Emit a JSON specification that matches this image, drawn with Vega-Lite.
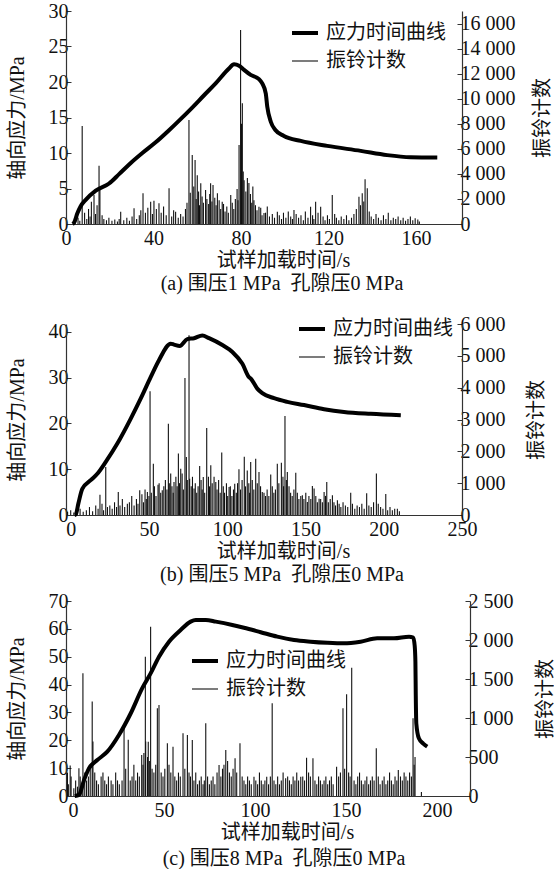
{
  "$schema": "https://vega.github.io/schema/vega-lite/v6.json",
  "padding": {"left": 7, "top": 1, "right": 0, "bottom": 0},
  "background": "white",
  "config": {
    "font": "Liberation Serif, Noto Sans CJK SC",
    "view": {"stroke": null},
    "axis": {"labelFont": "Liberation Serif, Noto Sans CJK SC", "labelFontSize": 20, "labelColor": "#111", "titleFont": "Liberation Serif, Noto Sans CJK SC", "titleFontSize": 20, "titleFontWeight": "normal", "titleColor": "#111", "grid": false, "domainColor": "#333", "tickColor": "#333", "domainWidth": 1.2, "labelFlush": false, "labelOverlap": false},
    "legend": {"labelFont": "Liberation Serif, Noto Sans CJK SC", "labelFontSize": 20, "labelColor": "#111", "symbolType": "stroke", "symbolSize": 676, "rowPadding": 4, "labelOffset": 6, "padding": 0, "titlePadding": 0},
    "title": {"font": "Liberation Serif, Noto Sans CJK SC", "fontSize": 20, "fontWeight": "normal", "color": "#111"}
  },
  "resolve": {"scale": {"color": "independent", "strokeWidth": "independent"}},
  "spacing": 6,
  "vconcat": [
    {
      "spacing": 20,
      "resolve": {"scale": {"color": "independent", "strokeWidth": "independent"}},
      "vconcat": [
        {
          "width": 396, "height": 213,
          "title": {"text": "(a) 围压1 MPa\u00a0\u00a0孔隙压0 MPa", "orient": "bottom", "offset": 4, "dx": 18},
          "resolve": {"scale": {"y": "independent"}},
          "layer": [
            {
              "data": {"name": "a_bars"},
              "mark": {"type": "rule"},
              "encoding": {
                "x": {"field": "t", "type": "quantitative", "scale": {"domain": [0, 181], "nice": false, "zero": false}, "axis": {"values": [0, 40, 80, 120, 160], "title": "试样加载时间/s", "ticks": false, "labelPadding": 4, "titlePadding": 2, "titleX": 217}},
                "y": {"field": "c", "type": "quantitative", "scale": {"domain": [0, 17000], "nice": false}, "axis": {"orient": "right", "values": [0, 2000, 4000, 6000, 8000, 10000, 12000, 14000, 16000], "labelExpr": "replace(format(datum.value, ','), ',', ' ')", "title": "振铃计数", "titleAngle": 270, "titleBaseline": "top", "tickSize": -5, "labelPadding": 3, "titlePadding": 17}},
                "y2": {"datum": 0},
                "color": {"datum": "振铃计数", "type": "nominal", "scale": {"domain": ["应力时间曲线", "振铃计数"], "range": ["#000000", "#111111"]}, "legend": {"orient": "none", "legendX": 224, "legendY": 7, "title": null}},
                "strokeWidth": {"datum": "振铃计数", "type": "ordinal", "scale": {"domain": ["应力时间曲线", "振铃计数"], "range": [4, 1.1]}, "legend": {"orient": "none", "legendX": 224, "legendY": 7, "title": null}}
              }
            },
            {
              "data": {"name": "a_stress"},
              "mark": {"type": "line", "interpolate": "monotone"},
              "encoding": {
                "x": {"field": "t", "type": "quantitative"},
                "y": {"field": "s", "type": "quantitative", "scale": {"domain": [0, 30], "nice": false}, "axis": {"orient": "left", "values": [0, 5, 10, 15, 20, 25, 30], "title": "轴向应力/MPa", "tickSize": -5, "labelPadding": 3, "titlePadding": 21}},
                "color": {"datum": "应力时间曲线", "type": "nominal"},
                "strokeWidth": {"datum": "应力时间曲线", "type": "ordinal"}
              }
            }
          ]
        },
        {
          "width": 396, "height": 191,
          "title": {"text": "(b) 围压5 MPa\u00a0\u00a0孔隙压0 MPa", "orient": "bottom", "offset": 4, "dx": 18},
          "resolve": {"scale": {"y": "independent"}},
          "layer": [
            {
              "data": {"name": "b_bars"},
              "mark": {"type": "rule"},
              "encoding": {
                "x": {"field": "t", "type": "quantitative", "scale": {"domain": [-3, 250], "nice": false, "zero": false}, "axis": {"values": [0, 50, 100, 150, 200, 250], "title": "试样加载时间/s", "ticks": false, "labelPadding": 4, "titlePadding": 2, "titleX": 217}},
                "y": {"field": "c", "type": "quantitative", "scale": {"domain": [0, 6000], "nice": false}, "axis": {"orient": "right", "values": [0, 1000, 2000, 3000, 4000, 5000, 6000], "labelExpr": "replace(format(datum.value, ','), ',', ' ')", "title": "振铃计数", "titleAngle": 270, "titleBaseline": "top", "tickSize": -5, "labelPadding": 3, "titlePadding": 21}},
                "y2": {"datum": 0},
                "color": {"datum": "振铃计数", "type": "nominal", "scale": {"domain": ["应力时间曲线", "振铃计数"], "range": ["#000000", "#111111"]}, "legend": {"orient": "none", "legendX": 231, "legendY": -10, "title": null}},
                "strokeWidth": {"datum": "振铃计数", "type": "ordinal", "scale": {"domain": ["应力时间曲线", "振铃计数"], "range": [4, 1.1]}, "legend": {"orient": "none", "legendX": 231, "legendY": -10, "title": null}}
              }
            },
            {
              "data": {"name": "b_stress"},
              "mark": {"type": "line", "interpolate": "monotone"},
              "encoding": {
                "x": {"field": "t", "type": "quantitative"},
                "y": {"field": "s", "type": "quantitative", "scale": {"domain": [0, 41.7], "nice": false}, "axis": {"orient": "left", "values": [0, 10, 20, 30, 40], "title": "轴向应力/MPa", "tickSize": -5, "labelPadding": 3, "titlePadding": 21}},
                "color": {"datum": "应力时间曲线", "type": "nominal"},
                "strokeWidth": {"datum": "应力时间曲线", "type": "ordinal"}
              }
            }
          ]
        }
      ]
    },
    {
      "width": 404, "height": 195,
      "title": {"text": "(c) 围压8 MPa\u00a0\u00a0孔隙压0 MPa", "orient": "bottom", "offset": 7, "dx": 16},
      "resolve": {"scale": {"y": "independent"}},
      "layer": [
        {
          "data": {"name": "c_bars"},
          "mark": {"type": "rule"},
          "encoding": {
            "x": {"field": "t", "type": "quantitative", "scale": {"domain": [-3.8, 218.2], "nice": false, "zero": false}, "axis": {"values": [0, 50, 100, 150, 200], "title": "试样加载时间/s", "ticks": false, "labelPadding": 4, "titlePadding": 2, "titleX": 221}},
            "y": {"field": "c", "type": "quantitative", "scale": {"domain": [0, 2500], "nice": false}, "axis": {"orient": "right", "values": [0, 500, 1000, 1500, 2000, 2500], "labelExpr": "replace(format(datum.value, ','), ',', ' ')", "title": "振铃计数", "titleAngle": 270, "titleBaseline": "top", "tickSize": -5, "labelPadding": 3, "titlePadding": 22}},
            "y2": {"datum": 0},
            "color": {"datum": "振铃计数", "type": "nominal", "scale": {"domain": ["应力时间曲线", "振铃计数"], "range": ["#000000", "#111111"]}, "legend": {"orient": "none", "legendX": 124, "legendY": 45, "title": null}},
            "strokeWidth": {"datum": "振铃计数", "type": "ordinal", "scale": {"domain": ["应力时间曲线", "振铃计数"], "range": [4, 1.1]}, "legend": {"orient": "none", "legendX": 124, "legendY": 45, "title": null}}
          }
        },
        {
          "data": {"name": "c_stress"},
          "mark": {"type": "line", "interpolate": "monotone"},
          "encoding": {
            "x": {"field": "t", "type": "quantitative"},
            "y": {"field": "s", "type": "quantitative", "scale": {"domain": [0, 70], "nice": false}, "axis": {"orient": "left", "values": [0, 10, 20, 30, 40, 50, 60, 70], "title": "轴向应力/MPa", "tickSize": -5, "labelPadding": 3, "titlePadding": 21}},
            "color": {"datum": "应力时间曲线", "type": "nominal"},
            "strokeWidth": {"datum": "应力时间曲线", "type": "ordinal"}
          }
        }
      ]
    }
  ],
  "datasets": {
    "a_stress": [
      {"t": 3.0, "s": 0}, {"t": 3.7, "s": 0.2}, {"t": 5.2, "s": 1.5}, {"t": 6.7, "s": 2.5}, {"t": 9.0, "s": 3.4}, {"t": 13.6, "s": 4.7}, {"t": 19.7, "s": 5.7}, {"t": 24.5, "s": 7.1}, {"t": 29.6, "s": 8.6}, {"t": 34.9, "s": 10.0}, {"t": 41.0, "s": 11.5}, {"t": 47.1, "s": 13.2}, {"t": 52.5, "s": 14.8}, {"t": 57.7, "s": 16.4}, {"t": 63.0, "s": 18.1}, {"t": 68.4, "s": 19.8}, {"t": 74.5, "s": 21.9}, {"t": 76.8, "s": 22.5}, {"t": 79.1, "s": 22.3}, {"t": 81.4, "s": 21.7}, {"t": 84.4, "s": 21.0}, {"t": 88.2, "s": 20.4}, {"t": 89.7, "s": 19.8}, {"t": 91.3, "s": 18.4}, {"t": 92.0, "s": 16.5}, {"t": 93.6, "s": 14.4}, {"t": 95.8, "s": 13.2}, {"t": 99.6, "s": 12.4}, {"t": 107.3, "s": 11.7}, {"t": 119.4, "s": 11.0}, {"t": 134.7, "s": 10.3}, {"t": 146.8, "s": 9.7}, {"t": 157.5, "s": 9.4}, {"t": 169.7, "s": 9.35}
    ],
    "a_bars": [
      {"t": 7.4, "c": 7820}, {"t": 11.6, "c": 1780}, {"t": 12.8, "c": 2310}, {"t": 15.1, "c": 4650}, {"t": 15.5, "c": 2980}, {"t": 25, "c": 980}, {"t": 31.1, "c": 1250}, {"t": 35.2, "c": 2450}, {"t": 38.7, "c": 1780}, {"t": 40.2, "c": 1860}, {"t": 42.5, "c": 1650}, {"t": 47.1, "c": 2850}, {"t": 50.1, "c": 980}, {"t": 56.2, "c": 8300}, {"t": 57.7, "c": 5500}, {"t": 59, "c": 5100}, {"t": 60, "c": 3900}, {"t": 61.6, "c": 3250}, {"t": 63.8, "c": 2710}, {"t": 66.1, "c": 3250}, {"t": 67.2, "c": 3110}, {"t": 69.2, "c": 2450}, {"t": 71.4, "c": 1780}, {"t": 75.3, "c": 2310}, {"t": 79.1, "c": 6300}, {"t": 79.8, "c": 15480}, {"t": 80.2, "c": 8000}, {"t": 80.6, "c": 9630}, {"t": 81.4, "c": 3500}, {"t": 82.9, "c": 3670}, {"t": 83.6, "c": 3270}, {"t": 85.9, "c": 1900}, {"t": 88.2, "c": 1380}, {"t": 90.5, "c": 880}, {"t": 96.6, "c": 980}, {"t": 104.2, "c": 1120}, {"t": 111.8, "c": 1380}, {"t": 114.1, "c": 1780}, {"t": 116.4, "c": 1380}, {"t": 121.7, "c": 2310}, {"t": 133.9, "c": 2180}, {"t": 135.4, "c": 2450}, {"t": 136.7, "c": 3570}, {"t": 137.7, "c": 2850},
      {"t": 4, "c": 300}, {"t": 5.5, "c": 500}, {"t": 6.3, "c": 250}, {"t": 8.5, "c": 900}, {"t": 9.5, "c": 400}, {"t": 10.3, "c": 1200}, {"t": 11, "c": 600}, {"t": 13.5, "c": 800}, {"t": 14.2, "c": 1500}, {"t": 16.5, "c": 700}, {"t": 17.3, "c": 400}, {"t": 18.5, "c": 300}, {"t": 19.6, "c": 500}, {"t": 21, "c": 250}, {"t": 22.3, "c": 350}, {"t": 23.5, "c": 200}, {"t": 24.3, "c": 400}, {"t": 26.4, "c": 300}, {"t": 27.8, "c": 500}, {"t": 29, "c": 250}, {"t": 30.2, "c": 600}, {"t": 32.3, "c": 400}, {"t": 33.5, "c": 700}, {"t": 34.2, "c": 1100}, {"t": 36.3, "c": 900}, {"t": 37.4, "c": 1300}, {"t": 39.5, "c": 800}, {"t": 41.3, "c": 1200}, {"t": 43.5, "c": 900}, {"t": 44.6, "c": 1400}, {"t": 45.8, "c": 700}, {"t": 48.3, "c": 600}, {"t": 49.2, "c": 1100}, {"t": 51.3, "c": 500}, {"t": 52.4, "c": 800}, {"t": 53.5, "c": 600}, {"t": 54.6, "c": 1200}, {"t": 55.3, "c": 1700}, {"t": 56.8, "c": 2500}, {"t": 58.4, "c": 3000}, {"t": 59.5, "c": 2000}, {"t": 60.6, "c": 2600}, {"t": 61, "c": 1500}, {"t": 62.2, "c": 2200}, {"t": 62.8, "c": 1700}, {"t": 64.4, "c": 2000}, {"t": 65.2, "c": 1600}, {"t": 65.7, "c": 2400}, {"t": 66.7, "c": 1800}, {"t": 68, "c": 2100}, {"t": 68.6, "c": 1500}, {"t": 70, "c": 1900}, {"t": 70.7, "c": 1200}, {"t": 72, "c": 1600}, {"t": 72.7, "c": 1000}, {"t": 73.5, "c": 1400}, {"t": 74.2, "c": 900}, {"t": 76, "c": 1700}, {"t": 76.7, "c": 1200}, {"t": 77.4, "c": 2000}, {"t": 78.2, "c": 2800}, {"t": 78.6, "c": 1900}, {"t": 81, "c": 4200}, {"t": 82.2, "c": 2600}, {"t": 84.3, "c": 2400}, {"t": 84.9, "c": 1700}, {"t": 85.4, "c": 3000}, {"t": 86.6, "c": 1500}, {"t": 87.3, "c": 1100}, {"t": 89, "c": 1300}, {"t": 89.6, "c": 700}, {"t": 91.2, "c": 900}, {"t": 92, "c": 1400}, {"t": 93, "c": 600}, {"t": 94.3, "c": 800}, {"t": 95.3, "c": 500}, {"t": 97.5, "c": 700}, {"t": 98.5, "c": 400}, {"t": 99.4, "c": 900}, {"t": 100.5, "c": 500}, {"t": 101.6, "c": 1000}, {"t": 102.7, "c": 600}, {"t": 103.5, "c": 400}, {"t": 105.2, "c": 800}, {"t": 106.3, "c": 500}, {"t": 107.4, "c": 700}, {"t": 108.5, "c": 300}, {"t": 109.4, "c": 1000}, {"t": 110.6, "c": 500}, {"t": 112.7, "c": 700}, {"t": 113.3, "c": 400}, {"t": 115.2, "c": 900}, {"t": 117.5, "c": 600}, {"t": 118.4, "c": 300}, {"t": 119.5, "c": 700}, {"t": 120.4, "c": 400}, {"t": 122.8, "c": 800}, {"t": 123.6, "c": 500}, {"t": 124.7, "c": 300}, {"t": 125.8, "c": 600}, {"t": 127, "c": 400}, {"t": 128.2, "c": 700}, {"t": 129.3, "c": 300}, {"t": 130.5, "c": 500}, {"t": 131.6, "c": 800}, {"t": 132.7, "c": 1200}, {"t": 134.6, "c": 1500}, {"t": 136.1, "c": 1800}, {"t": 138.6, "c": 1000}, {"t": 139.5, "c": 600}, {"t": 140.6, "c": 400}, {"t": 141.7, "c": 800}, {"t": 142.8, "c": 500}, {"t": 144, "c": 300}, {"t": 145.1, "c": 700}, {"t": 146.2, "c": 400}, {"t": 147.3, "c": 900}, {"t": 148.5, "c": 300}, {"t": 149.6, "c": 500}, {"t": 150.7, "c": 400}, {"t": 151.8, "c": 600}, {"t": 153, "c": 300}, {"t": 154.1, "c": 500}, {"t": 155.2, "c": 250}, {"t": 156.3, "c": 400}, {"t": 157.4, "c": 600}, {"t": 158.5, "c": 300}, {"t": 159.6, "c": 450}, {"t": 160.8, "c": 350}, {"t": 161.5, "c": 200}
    ],
    "b_stress": [
      {"t": 2.5, "s": 0}, {"t": 3.2, "s": 0.1}, {"t": 4.9, "s": 2.5}, {"t": 7.4, "s": 5.7}, {"t": 12.8, "s": 7.6}, {"t": 17.0, "s": 9.0}, {"t": 22.4, "s": 11.6}, {"t": 29.8, "s": 15.6}, {"t": 38.3, "s": 21.0}, {"t": 44.7, "s": 25.4}, {"t": 51.1, "s": 30.1}, {"t": 56.4, "s": 33.8}, {"t": 63.9, "s": 37.4}, {"t": 66.0, "s": 37.2}, {"t": 69.7, "s": 36.9}, {"t": 74.5, "s": 38.4}, {"t": 78.8, "s": 38.6}, {"t": 84.1, "s": 39.2}, {"t": 88.4, "s": 38.6}, {"t": 96.9, "s": 37.1}, {"t": 103.3, "s": 35.6}, {"t": 109.7, "s": 33.0}, {"t": 113.9, "s": 30.1}, {"t": 115.0, "s": 29.8}, {"t": 119.2, "s": 27.6}, {"t": 122.4, "s": 26.6}, {"t": 129.9, "s": 25.5}, {"t": 138.4, "s": 24.7}, {"t": 149.1, "s": 24.0}, {"t": 161.9, "s": 23.1}, {"t": 174.6, "s": 22.5}, {"t": 191.7, "s": 22.1}, {"t": 210.9, "s": 21.8}
    ],
    "b_bars": [
      {"t": 18.7, "c": 640}, {"t": 22.4, "c": 1510}, {"t": 30.4, "c": 720}, {"t": 36.2, "c": 355}, {"t": 44.1, "c": 775}, {"t": 49, "c": 720}, {"t": 50.7, "c": 3890}, {"t": 52.8, "c": 1610}, {"t": 55.8, "c": 950}, {"t": 58.5, "c": 775}, {"t": 62.4, "c": 2870}, {"t": 63.9, "c": 1300}, {"t": 66, "c": 1040}, {"t": 68.8, "c": 1930}, {"t": 70.3, "c": 1455}, {"t": 73, "c": 4300}, {"t": 73.9, "c": 1820}, {"t": 75.6, "c": 5650}, {"t": 76, "c": 1140}, {"t": 78.8, "c": 830}, {"t": 82.4, "c": 1540}, {"t": 84.7, "c": 1190}, {"t": 86.9, "c": 2730}, {"t": 89.5, "c": 1560}, {"t": 92.7, "c": 1040}, {"t": 96.5, "c": 1960}, {"t": 101.2, "c": 880}, {"t": 104.8, "c": 985}, {"t": 107.5, "c": 1435}, {"t": 110.9, "c": 1830}, {"t": 112.8, "c": 1400}, {"t": 115, "c": 1665}, {"t": 118.2, "c": 1770}, {"t": 120.3, "c": 1350}, {"t": 122.4, "c": 720}, {"t": 127.8, "c": 1270}, {"t": 132, "c": 1610}, {"t": 134.6, "c": 1640}, {"t": 136.9, "c": 3110}, {"t": 138.4, "c": 1350}, {"t": 143.8, "c": 1330}, {"t": 148, "c": 620}, {"t": 151.2, "c": 410}, {"t": 154.4, "c": 910}, {"t": 155.5, "c": 830}, {"t": 158.7, "c": 510}, {"t": 161.9, "c": 720}, {"t": 163.6, "c": 1040}, {"t": 167.2, "c": 620}, {"t": 170.4, "c": 460}, {"t": 178.9, "c": 700}, {"t": 189.1, "c": 680}, {"t": 195.3, "c": 1300}, {"t": 201.3, "c": 660}, {"t": 208.7, "c": 200},
      {"t": -2, "c": 100}, {"t": 0, "c": 150}, {"t": 2, "c": 80}, {"t": 4, "c": 120}, {"t": 6, "c": 200}, {"t": 8, "c": 100}, {"t": 10, "c": 150}, {"t": 12, "c": 250}, {"t": 14, "c": 120}, {"t": 16, "c": 300}, {"t": 17.5, "c": 200}, {"t": 20, "c": 350}, {"t": 21, "c": 150}, {"t": 23.5, "c": 250}, {"t": 25, "c": 300}, {"t": 26.5, "c": 200}, {"t": 28, "c": 400}, {"t": 29.3, "c": 250}, {"t": 31.5, "c": 300}, {"t": 33, "c": 500}, {"t": 34.5, "c": 250}, {"t": 37.5, "c": 400}, {"t": 39, "c": 600}, {"t": 40.5, "c": 300}, {"t": 42, "c": 500}, {"t": 43, "c": 350}, {"t": 45.5, "c": 650}, {"t": 46.5, "c": 400}, {"t": 47.5, "c": 800}, {"t": 48.3, "c": 500}, {"t": 50, "c": 600}, {"t": 51.5, "c": 700}, {"t": 53.5, "c": 900}, {"t": 54.5, "c": 600}, {"t": 56.5, "c": 1000}, {"t": 57.5, "c": 700}, {"t": 59.5, "c": 900}, {"t": 60.5, "c": 1100}, {"t": 61.5, "c": 800}, {"t": 63, "c": 1000}, {"t": 64.7, "c": 900}, {"t": 65.5, "c": 700}, {"t": 67.2, "c": 1200}, {"t": 68, "c": 900}, {"t": 69.5, "c": 1000}, {"t": 71.2, "c": 1300}, {"t": 72, "c": 800}, {"t": 74.5, "c": 1100}, {"t": 77, "c": 900}, {"t": 77.8, "c": 1200}, {"t": 79.6, "c": 1000}, {"t": 80.5, "c": 700}, {"t": 81.4, "c": 900}, {"t": 83.3, "c": 1100}, {"t": 84, "c": 800}, {"t": 85.6, "c": 700}, {"t": 88, "c": 1200}, {"t": 88.7, "c": 900}, {"t": 90.4, "c": 1000}, {"t": 91.6, "c": 1200}, {"t": 93.5, "c": 800}, {"t": 94.5, "c": 1100}, {"t": 95.5, "c": 700}, {"t": 97.5, "c": 900}, {"t": 98.3, "c": 700}, {"t": 99.5, "c": 1000}, {"t": 100.3, "c": 600}, {"t": 102, "c": 900}, {"t": 103, "c": 600}, {"t": 104, "c": 800}, {"t": 105.8, "c": 700}, {"t": 106.6, "c": 1000}, {"t": 108.5, "c": 800}, {"t": 109.5, "c": 1100}, {"t": 111.7, "c": 900}, {"t": 113.8, "c": 1000}, {"t": 114.3, "c": 700}, {"t": 116, "c": 1100}, {"t": 117, "c": 800}, {"t": 119.2, "c": 1000}, {"t": 121.3, "c": 900}, {"t": 123.5, "c": 700}, {"t": 124.5, "c": 600}, {"t": 125.5, "c": 800}, {"t": 126.6, "c": 600}, {"t": 128.8, "c": 900}, {"t": 129.8, "c": 700}, {"t": 130.8, "c": 800}, {"t": 133, "c": 1000}, {"t": 135.6, "c": 1200}, {"t": 136, "c": 900}, {"t": 137.8, "c": 1100}, {"t": 139.5, "c": 900}, {"t": 140.5, "c": 700}, {"t": 141.5, "c": 600}, {"t": 142.6, "c": 800}, {"t": 144.8, "c": 700}, {"t": 145.8, "c": 500}, {"t": 147, "c": 600}, {"t": 149, "c": 500}, {"t": 150.2, "c": 700}, {"t": 152.2, "c": 600}, {"t": 153.4, "c": 500}, {"t": 156.6, "c": 600}, {"t": 157.6, "c": 400}, {"t": 159.7, "c": 500}, {"t": 160.8, "c": 400}, {"t": 162.8, "c": 600}, {"t": 164.6, "c": 400}, {"t": 165.8, "c": 500}, {"t": 168.2, "c": 400}, {"t": 169.2, "c": 300}, {"t": 171.5, "c": 350}, {"t": 172.6, "c": 250}, {"t": 174, "c": 400}, {"t": 175.5, "c": 300}, {"t": 177, "c": 250}, {"t": 180, "c": 350}, {"t": 181.5, "c": 200}, {"t": 183, "c": 300}, {"t": 184.5, "c": 250}, {"t": 186, "c": 350}, {"t": 187.5, "c": 200}, {"t": 190.5, "c": 300}, {"t": 192, "c": 250}, {"t": 193.5, "c": 400}, {"t": 196.5, "c": 350}, {"t": 198, "c": 250}, {"t": 199.5, "c": 200}, {"t": 202.5, "c": 150}, {"t": 204, "c": 250}, {"t": 205.5, "c": 150}, {"t": 207, "c": 200}, {"t": 210, "c": 120}
    ],
    "c_stress": [
      {"t": 1.0, "s": 0}, {"t": 3.3, "s": 0.4}, {"t": 6.1, "s": 5.7}, {"t": 8.8, "s": 9.9}, {"t": 13.4, "s": 12.9}, {"t": 18.9, "s": 15.9}, {"t": 25.3, "s": 21.9}, {"t": 31.8, "s": 29.7}, {"t": 38.1, "s": 38.7}, {"t": 42.7, "s": 44.0}, {"t": 47.3, "s": 50.0}, {"t": 52.8, "s": 55.4}, {"t": 59.2, "s": 59.6}, {"t": 64.7, "s": 62.6}, {"t": 67.5, "s": 63.2}, {"t": 73.0, "s": 63.2}, {"t": 78.5, "s": 62.6}, {"t": 87.6, "s": 61.4}, {"t": 94.0, "s": 60.4}, {"t": 103.2, "s": 58.8}, {"t": 112.3, "s": 57.2}, {"t": 121.5, "s": 56.0}, {"t": 130.6, "s": 55.4}, {"t": 139.8, "s": 55.0}, {"t": 148.9, "s": 54.8}, {"t": 158.1, "s": 55.4}, {"t": 167.2, "s": 56.6}, {"t": 176.4, "s": 56.6}, {"t": 184.7, "s": 57.2}, {"t": 187.0, "s": 56.9}, {"t": 187.8, "s": 54.0}, {"t": 188.2, "s": 48.2}, {"t": 188.4, "s": 36.2}, {"t": 188.7, "s": 26.0}, {"t": 190.1, "s": 20.7}, {"t": 192.5, "s": 18.8}, {"t": 194.7, "s": 17.7}
    ],
    "c_bars": [
      {"t": -1.5, "c": 390}, {"t": 3.3, "c": 355}, {"t": 5.5, "c": 1573}, {"t": 10.6, "c": 1210}, {"t": 11, "c": 700}, {"t": 28.1, "c": 890}, {"t": 30.4, "c": 720}, {"t": 37.8, "c": 525}, {"t": 39.8, "c": 1786}, {"t": 42.7, "c": 2170}, {"t": 41.4, "c": 696}, {"t": 46.4, "c": 1124}, {"t": 47.3, "c": 1167}, {"t": 51.9, "c": 675}, {"t": 55, "c": 632}, {"t": 60.5, "c": 804}, {"t": 62.9, "c": 782}, {"t": 65.6, "c": 718}, {"t": 73, "c": 932}, {"t": 80.3, "c": 397}, {"t": 84, "c": 590}, {"t": 89.1, "c": 483}, {"t": 91.8, "c": 675}, {"t": 99.5, "c": 248}, {"t": 106.5, "c": 248}, {"t": 109.5, "c": 1188}, {"t": 116.9, "c": 227}, {"t": 125.2, "c": 248}, {"t": 128.4, "c": 491}, {"t": 131.9, "c": 483}, {"t": 144.9, "c": 376}, {"t": 148.4, "c": 1124}, {"t": 150.4, "c": 1303}, {"t": 153.2, "c": 1645}, {"t": 166.7, "c": 611}, {"t": 178.8, "c": 333}, {"t": 186.9, "c": 996},
      {"t": -3, "c": 300}, {"t": -2.5, "c": 150}, {"t": -1, "c": 250}, {"t": 0.5, "c": 100}, {"t": 1.5, "c": 200}, {"t": 2.5, "c": 120}, {"t": 4, "c": 250}, {"t": 5, "c": 150}, {"t": 6.5, "c": 300}, {"t": 7.5, "c": 200}, {"t": 8.5, "c": 250}, {"t": 9.5, "c": 400}, {"t": 12, "c": 300}, {"t": 13, "c": 200}, {"t": 14, "c": 150}, {"t": 15.5, "c": 250}, {"t": 16.5, "c": 300}, {"t": 17.5, "c": 200}, {"t": 18.5, "c": 150}, {"t": 19.5, "c": 250}, {"t": 21, "c": 200}, {"t": 22, "c": 150}, {"t": 23.5, "c": 300}, {"t": 24.5, "c": 200}, {"t": 25.5, "c": 150}, {"t": 27, "c": 200}, {"t": 29, "c": 350}, {"t": 31.5, "c": 200}, {"t": 32.5, "c": 250}, {"t": 33.5, "c": 400}, {"t": 34.5, "c": 200}, {"t": 35.5, "c": 300}, {"t": 36.5, "c": 250}, {"t": 38.5, "c": 400}, {"t": 39, "c": 550}, {"t": 40, "c": 700}, {"t": 41, "c": 500}, {"t": 42, "c": 450}, {"t": 43.5, "c": 350}, {"t": 44.5, "c": 300}, {"t": 45.5, "c": 400}, {"t": 48.5, "c": 300}, {"t": 49.5, "c": 250}, {"t": 50.5, "c": 350}, {"t": 52.8, "c": 400}, {"t": 53.8, "c": 300}, {"t": 56, "c": 250}, {"t": 57, "c": 200}, {"t": 58, "c": 300}, {"t": 59, "c": 250}, {"t": 61.5, "c": 350}, {"t": 63.8, "c": 300}, {"t": 64.6, "c": 250}, {"t": 66.5, "c": 200}, {"t": 67.5, "c": 300}, {"t": 68.5, "c": 150}, {"t": 69.5, "c": 200}, {"t": 70.5, "c": 250}, {"t": 71.5, "c": 150}, {"t": 72.2, "c": 200}, {"t": 74, "c": 250}, {"t": 75, "c": 150}, {"t": 76, "c": 200}, {"t": 77, "c": 250}, {"t": 78, "c": 150}, {"t": 79.2, "c": 300}, {"t": 81.3, "c": 250}, {"t": 82.2, "c": 350}, {"t": 83, "c": 400}, {"t": 85, "c": 450}, {"t": 86, "c": 300}, {"t": 87, "c": 250}, {"t": 88, "c": 350}, {"t": 90, "c": 300}, {"t": 93, "c": 250}, {"t": 94, "c": 200}, {"t": 95, "c": 150}, {"t": 96, "c": 250}, {"t": 97, "c": 200}, {"t": 98, "c": 150}, {"t": 100.5, "c": 200}, {"t": 101.5, "c": 150}, {"t": 102.5, "c": 300}, {"t": 103.5, "c": 200}, {"t": 104.5, "c": 150}, {"t": 105.5, "c": 200}, {"t": 107.5, "c": 150}, {"t": 108.5, "c": 250}, {"t": 110.5, "c": 200}, {"t": 111.5, "c": 150}, {"t": 112.5, "c": 250}, {"t": 113.5, "c": 150}, {"t": 114.5, "c": 200}, {"t": 115.5, "c": 300}, {"t": 118, "c": 250}, {"t": 119, "c": 200}, {"t": 120, "c": 150}, {"t": 121, "c": 250}, {"t": 122, "c": 200}, {"t": 123, "c": 300}, {"t": 124, "c": 200}, {"t": 126.3, "c": 250}, {"t": 127.3, "c": 200}, {"t": 129.5, "c": 300}, {"t": 130.5, "c": 250}, {"t": 133, "c": 200}, {"t": 134, "c": 150}, {"t": 135, "c": 250}, {"t": 136, "c": 200}, {"t": 137, "c": 150}, {"t": 138, "c": 200}, {"t": 139, "c": 250}, {"t": 140, "c": 150}, {"t": 141, "c": 200}, {"t": 142, "c": 250}, {"t": 143, "c": 150}, {"t": 146, "c": 250}, {"t": 147, "c": 300}, {"t": 149.3, "c": 350}, {"t": 151.5, "c": 300}, {"t": 152.3, "c": 250}, {"t": 154.5, "c": 200}, {"t": 155.5, "c": 150}, {"t": 156.5, "c": 250}, {"t": 157.5, "c": 300}, {"t": 158.5, "c": 200}, {"t": 159.5, "c": 150}, {"t": 160.5, "c": 200}, {"t": 161.5, "c": 250}, {"t": 162.5, "c": 150}, {"t": 163.5, "c": 200}, {"t": 164.5, "c": 250}, {"t": 165.5, "c": 200}, {"t": 167.8, "c": 250}, {"t": 168.8, "c": 150}, {"t": 170, "c": 200}, {"t": 171, "c": 250}, {"t": 172, "c": 150}, {"t": 173, "c": 200}, {"t": 174, "c": 300}, {"t": 175, "c": 200}, {"t": 176, "c": 150}, {"t": 177, "c": 250}, {"t": 178, "c": 200}, {"t": 180, "c": 250}, {"t": 181, "c": 200}, {"t": 182, "c": 300}, {"t": 183, "c": 250}, {"t": 184, "c": 200}, {"t": 185, "c": 300}, {"t": 186, "c": 250}, {"t": 187.5, "c": 400}, {"t": 188, "c": 500}, {"t": 191.5, "c": 50}
    ]
  }
}
